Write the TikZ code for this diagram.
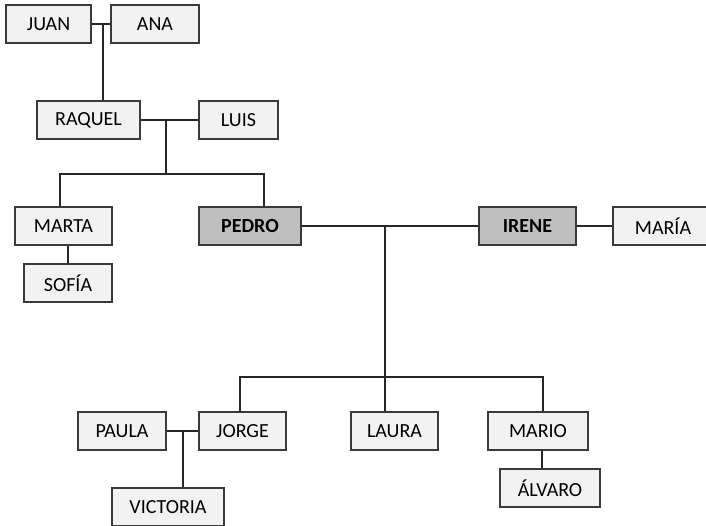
\documentclass[tikz,border=0pt]{standalone}
\usepackage{fontspec}
\setmainfont{Carlito}
\usepackage{xcolor}
\usepackage{tikz}
\usetikzlibrary{positioning}

\definecolor{boxlight}{HTML}{F2F2F2}
\definecolor{boxdark}{HTML}{BFBFBF}
\definecolor{boxline}{HTML}{3A3A3A}

\begin{document}
\begin{tikzpicture}[
  x=1pt, y=-1pt,
  person/.style={draw=boxline, line width=1.1pt, fill=boxlight, minimum height=38pt,
                 inner sep=0pt, align=center, font=\fontsize{20}{24}\selectfont},
  lead/.style={person, fill=boxdark, font=\fontsize{20}{24}\selectfont\bfseries},
  link/.style={draw=black!85, line width=1.1pt}
]
\useasboundingbox (0,0) rectangle (706,525);

% Boxes
\node[person, minimum width=85pt]  (juan)     at (48.5,24)  {JUAN};
\node[person, minimum width=88pt]  (ana)      at (155,24)   {ANA};
\node[person, minimum width=103pt] (raquel)   at (88.5,120) {RAQUEL};
\node[person, minimum width=79pt]  (luis)     at (238.5,120){LUIS};
\node[person, minimum width=97pt]  (marta)    at (63.5,226) {MARTA};
\node[lead,   minimum width=102pt] (pedro)    at (250,226)  {PEDRO};
\node[person, minimum width=88pt]  (sofia)    at (68,283)   {SOFÍA};
\node[lead,   minimum width=97pt]  (irene)    at (527.5,226){IRENE};
\node[person, minimum width=100pt] (maria)    at (663,226)  {MARÍA};
\node[person, minimum width=88pt]  (paula)    at (122,431)  {PAULA};
\node[person, minimum width=87pt]  (jorge)    at (242.5,431){JORGE};
\node[person, minimum width=87pt]  (laura)    at (394.5,431){LAURA};
\node[person, minimum width=100pt] (mario)    at (538,431)  {MARIO};
\node[person, minimum width=100pt] (alvaro)   at (550,488)  {ÁLVARO};
\node[person, minimum width=112pt] (victoria) at (168,507)  {VICTORIA};

% Junctions
\coordinate (juanana) at (103,24);
\coordinate (raqluis) at (166,120);
\coordinate (sibL)    at (60,174);
\coordinate (sibR)    at (264,174);
\coordinate (pedire)  at (385,226);
\coordinate (kidL)    at (240,377);
\coordinate (kidR)    at (543,377);
\coordinate (paujor)  at (183,431);

% Lines
\draw[link] (juan) -- (ana);
\draw[link] (juanana) -- (juanana |- raquel.north);
\draw[link] (raquel) -- (luis);
\draw[link] (raqluis) -- (raqluis |- sibL);
\draw[link] (sibL |- marta.north) -- (sibL) -- (sibR) -- (sibR |- pedro.north);
\draw[link] (sofia.north) -- (sofia.north |- marta.south);
\draw[link] (pedro) -- (irene);
\draw[link] (irene) -- (maria);
\draw[link] (pedire) -- (pedire |- laura.north);
\draw[link] (kidL |- jorge.north) -- (kidL) -- (kidR) -- (kidR |- mario.north);
\draw[link] (paula) -- (jorge);
\draw[link] (paujor) -- (paujor |- victoria.north);
\draw[link] ([xshift=4pt]mario.south) -- ([xshift=4pt]mario.south |- alvaro.north);

\end{tikzpicture}
\end{document}
